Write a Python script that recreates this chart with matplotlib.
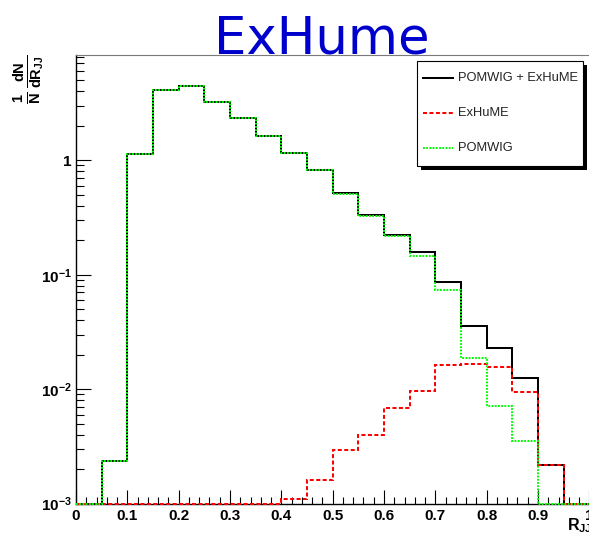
import numpy as np
import matplotlib
matplotlib.use("Agg")
import matplotlib.pyplot as plt
from matplotlib.patches import Rectangle
from matplotlib.lines import Line2D
from matplotlib.ticker import MultipleLocator, LogLocator, FuncFormatter, NullFormatter

# ---- data: normalised R_JJ distributions, 20 bins of width 0.05 ----
bin_edges = [0.00, 0.05, 0.10, 0.15, 0.20, 0.25, 0.30, 0.35, 0.40, 0.45, 0.50,
             0.55, 0.60, 0.65, 0.70, 0.75, 0.80, 0.85, 0.90, 0.95, 1.00]
total = [0, 0.00234, 1.14, 4.09, 4.43, 3.23, 2.36, 1.63, 1.16, 0.818,
         0.515, 0.331, 0.222, 0.157, 0.087, 0.0354, 0.0227, 0.0126, 0.00217, 0]
exhume = [0, 0, 0, 0, 0, 0, 0, 0, 0.00110, 0.00162,
          0.00292, 0.00396, 0.00684, 0.0097, 0.0164, 0.0166, 0.0156, 0.0094, 0.00217, 0]
pomwig = [0, 0.00234, 1.14, 4.09, 4.43, 3.23, 2.36, 1.63, 1.159, 0.816,
          0.512, 0.325, 0.217, 0.146, 0.0731, 0.0187, 0.00708, 0.00355, 0, 0]
labels = ["POMWIG + ExHuME", "ExHuME", "POMWIG"]
colors = ["black", "#ff0000", "#00ff00"]
title = "ExHume"

YMIN, YMAX = 1e-3, 8.3
W, H = 589, 543

plt.rcParams["mathtext.fontset"] = "custom"
plt.rcParams["mathtext.rm"] = "Liberation Sans"
plt.rcParams["mathtext.it"] = "Liberation Sans:italic"
plt.rcParams["mathtext.bf"] = "Liberation Sans:bold"
plt.rcParams["font.family"] = ["Liberation Sans", "DejaVu Sans"]

fig = plt.figure(figsize=(W / 100, H / 100), dpi=100)
fig.patch.set_facecolor("white")


def fx(px):
    return px / W


def fy(py):
    return 1 - py / H


ax_left, ax_right, ax_top, ax_bottom = 76, 589.3, 55, 503.7
ax = fig.add_axes([fx(ax_left), fy(ax_bottom), fx(ax_right - ax_left),
                   (ax_bottom - ax_top) / H])

lw = 1.45
styles = [dict(linestyle="-"),
          dict(linestyle=(0, (2.0, 1.2))),
          dict(linestyle=(0, (0.9, 0.7)))]

# empty bins sit on the lower edge of the log axis, drawn over the frame
for vals, col, st in zip([total, exhume, pomwig], colors, styles):
    v = np.asarray(vals, dtype=float)
    v = np.where(v > 0, v, YMIN)
    ax.stairs(v, bin_edges, baseline=None, color=col, lw=lw, clip_on=False,
              zorder=3, **st)

ax.set_yscale("log")
ax.set_xlim(0, 1)
ax.set_ylim(YMIN, YMAX)

ax.xaxis.set_major_locator(MultipleLocator(0.1))
ax.xaxis.set_minor_locator(MultipleLocator(0.02))
ax.xaxis.set_major_formatter(FuncFormatter(lambda v, p: "0" if abs(v) < 1e-9 else ("1" if abs(v - 1) < 1e-9 else f"{v:.1f}")))
ax.yaxis.set_major_locator(LogLocator(base=10, numticks=10))
ax.yaxis.set_minor_locator(LogLocator(base=10, subs=np.arange(2, 10), numticks=20))
ax.yaxis.set_minor_formatter(NullFormatter())


def yfmt(v, p):
    e = int(round(np.log10(v)))
    if e == 0:
        return "1"
    return r"$\mathbf{10^{%d}}$" % e


ax.yaxis.set_major_formatter(FuncFormatter(yfmt))

ax.tick_params(which="both", direction="in", top=False, right=False, width=0.8, color="black")
ax.xaxis.set_tick_params(which="major", length=9.9, pad=4)
ax.xaxis.set_tick_params(which="minor", length=5.0)
ax.yaxis.set_tick_params(which="major", length=11, pad=3)
ax.yaxis.set_tick_params(which="minor", length=5.8)
for lab in ax.get_xticklabels() + ax.get_yticklabels():
    lab.set_fontweight("bold")
    lab.set_fontsize(11)

ax.spines["right"].set_visible(False)
ax.spines["top"].set_color("#7a7a7a")
ax.spines["left"].set_linewidth(1.0)
ax.spines["bottom"].set_linewidth(1.0)

# axis titles
fig.text(fx(29), fy(ax_top), r"$\frac{\mathbf{1}}{\mathbf{N}}\,\frac{\mathbf{dN}}{\mathbf{dR_{JJ}}}$",
         rotation=90, ha="center", va="top", fontsize=15)
fig.text(fx(592), fy(530), r"$\mathbf{R_{JJ}}$", ha="right", va="baseline", fontsize=11.5)

# title
fig.text(fx(322), fy(53), title, ha="center", va="baseline", color="#0000cd",
         fontsize=37, family="DejaVu Sans")

# legend box with drop shadow
bx0, bx1, by0, by1 = 417, 583, 61, 166
fig.patches.append(Rectangle((fx(bx0 + 4), fy(by1 + 4)), fx(bx1 - bx0), (by1 - by0) / H,
                             transform=fig.transFigure, facecolor="black", edgecolor="none", zorder=5))
fig.patches.append(Rectangle((fx(bx0), fy(by1)), fx(bx1 - bx0), (by1 - by0) / H,
                             transform=fig.transFigure, facecolor="white", edgecolor="black",
                             lw=0.8, zorder=6))
rows = [78.3, 113, 147.7]
for lab, col, st, ry in zip(labels, colors, styles, rows):
    fig.lines.append(Line2D([fx(423), fx(453)], [fy(ry), fy(ry)], transform=fig.transFigure,
                            color=col, lw=lw, zorder=7, **st))
    fig.text(fx(458), fy(ry), lab, ha="left", va="center", fontsize=9.3, color="#222222", zorder=8)

fig.savefig("out.png", dpi=100)
